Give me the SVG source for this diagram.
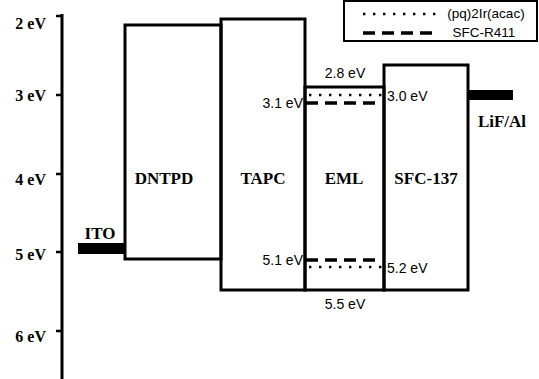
<svg xmlns="http://www.w3.org/2000/svg" width="539" height="379" viewBox="0 0 539 379">
<style>
.box{fill:none;stroke:#000;stroke-width:3;stroke-linejoin:miter}
.ax{fill:none;stroke:#000;stroke-width:3}
.tk{fill:none;stroke:#000;stroke-width:2.5}
.lb{font-family:"Liberation Serif","Times New Roman",serif;font-weight:bold;font-size:17px;fill:#000}
.al{font-family:"Liberation Serif","Times New Roman",serif;font-weight:bold;font-size:16px;fill:#000}
.nm{font-family:"Liberation Sans",Arial,sans-serif;font-size:14px;fill:#000}
.dot{fill:none;stroke:#000;stroke-width:2.6;stroke-dasharray:2.4 7.6}
.dash{fill:none;stroke:#000;stroke-width:3.5;stroke-dasharray:12 7}
.bar{fill:#000}
</style>
<rect width="539" height="379" fill="#fff"/>
<g id="axis">
<path class="ax" d="M62,14 V379"/>
<path class="tk" d="M56,16 H62 M56,95 H62 M56,174 H62 M56,252 H62 M56,331 H62"/>
<text class="al" x="46" y="29" text-anchor="end">2 eV</text>
<text class="al" x="46" y="101" text-anchor="end">3 eV</text>
<text class="al" x="46" y="185" text-anchor="end">4 eV</text>
<text class="al" x="46" y="260" text-anchor="end">5 eV</text>
<text class="al" x="46" y="342" text-anchor="end">6 eV</text>
</g>
<g id="legend">
<rect x="344" y="1" width="193" height="40" fill="#fff" stroke="#000" stroke-width="2"/>
<path class="dot" d="M363,14 H436"/>
<path class="dash" d="M363,33 H438"/>
<text class="nm" x="486" y="18" text-anchor="middle" style="font-size:13.5px">(pq)2Ir(acac)</text>
<text class="nm" x="484" y="37" text-anchor="middle" style="font-size:13.5px">SFC-R411</text>
</g>
<g id="ITO">
<rect class="bar" x="78" y="243" width="47" height="11"/>
<text class="lb" x="100" y="239" text-anchor="middle">ITO</text>
</g>
<g id="DNTPD">
<path class="box" d="M125,259 V25 H221 V259 Z"/>
<text class="lb" x="164" y="184" text-anchor="middle">DNTPD</text>
</g>
<g id="TAPC">
<path class="box" d="M221,290 V19 H305 V290 Z"/>
<text class="lb" x="263" y="184" text-anchor="middle">TAPC</text>
</g>
<g id="EML">
<path class="box" d="M305,290 V87 H384 V290 Z"/>
<text class="lb" x="344" y="184" text-anchor="middle">EML</text>
<text class="nm" x="345" y="78" text-anchor="middle">2.8 eV</text>
<text class="nm" x="345" y="309" text-anchor="middle">5.5 eV</text>
</g>
<g id="SFC-137">
<path class="box" d="M384,290 V65 H468 V290 Z"/>
<text class="lb" x="426" y="184" text-anchor="middle">SFC-137</text>
</g>
<g id="LiF-Al">
<rect class="bar" x="468" y="90" width="45" height="10"/>
<text class="lb" x="502" y="127" text-anchor="middle">LiF/Al</text>
</g>
<g id="connectors">
<path class="dot" d="M309,95 H384"/>
<path class="dash" d="M306,103 H382"/>
<path class="dash" d="M306,260 H382"/>
<path class="dot" d="M309,267 H384"/>
<text class="nm" x="303" y="108" text-anchor="end">3.1 eV</text>
<text class="nm" x="387" y="101">3.0 eV</text>
<text class="nm" x="303" y="265" text-anchor="end">5.1 eV</text>
<text class="nm" x="387" y="273">5.2 eV</text>
</g>
</svg>
